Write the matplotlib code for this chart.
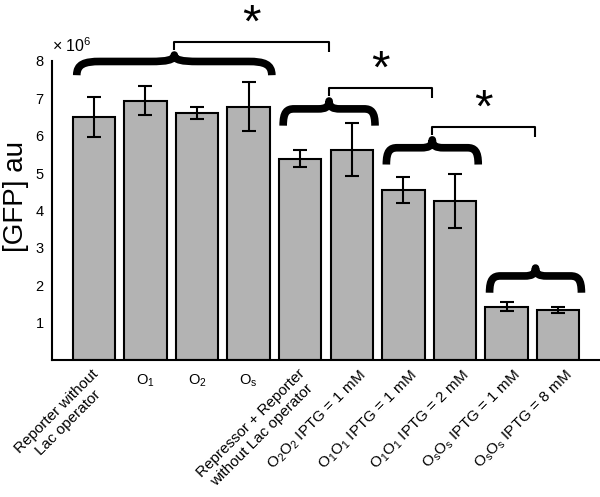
import matplotlib
matplotlib.use("Agg")
import matplotlib.pyplot as plt
from matplotlib.path import Path
from matplotlib.patches import PathPatch
from matplotlib.transforms import ScaledTranslation

plt.rcParams["font.family"] = ["Liberation Sans", "DejaVu Sans"]
plt.rcParams["mathtext.default"] = "regular"

# data (GFP in units of 10^6)
labels = [
    "Reporter without\nLac operator",
    "O$_1$",
    "O$_2$",
    "O$_s$",
    "Repressor + Reporter\nwithout Lac operator",
    "O$_2$O$_2$ IPTG = 1 mM",
    "O$_1$O$_1$ IPTG = 1 mM",
    "O$_1$O$_1$ IPTG = 2 mM",
    "O$_s$O$_s$ IPTG = 1 mM",
    "O$_s$O$_s$ IPTG = 8 mM",
]
gfp = [6.51, 6.94, 6.62, 6.78, 5.39, 5.63, 4.54, 4.25, 1.43, 1.34]
gfp_err = [0.54, 0.38, 0.16, 0.65, 0.22, 0.71, 0.35, 0.72, 0.12, 0.07]

# groups joined by braces, and pairs of groups marked significant
groups = [(0, 3), (4, 5), (6, 7), (8, 9)]
sig_pairs = [(0, 1), (1, 2), (2, 3)]

# annotation layout
brace_base = [7.62, 6.27, 5.23, 1.80]
brace_h = [0.54, 0.66, 0.66, 0.66]

x = list(range(len(gfp)))

fig = plt.figure(figsize=(6, 4.97), dpi=100)
ax = fig.add_axes([52 / 600, 137 / 497, 548 / 600, 299 / 497])

ax.bar(x, gfp, width=0.82, color="#b3b3b3", edgecolor="black", linewidth=1.5,
       yerr=gfp_err, error_kw=dict(ecolor="black", elinewidth=1.5, capsize=5, capthick=1.5))

ax.set_xlim(-0.81, 9.81)
ax.set_ylim(0, 8)
ax.set_yticks(range(1, 9))
ax.tick_params(axis="y", length=0, pad=6, labelsize=10.5)
ax.tick_params(axis="x", length=0, pad=4, labelsize=11)
for s in ["top", "right"]:
    ax.spines[s].set_visible(False)
for s in ["left", "bottom"]:
    ax.spines[s].set_linewidth(1.5)

ax.set_xticks(x)
ax.set_xticklabels(labels)
for i, t in enumerate(ax.get_xticklabels()):
    if i in (1, 2, 3):
        t.set_rotation(0)
        t.set_va("top")
        t.set_fontsize(10.5)
        t.set_transform(t.get_transform() + ScaledTranslation(0, -0.07, fig.dpi_scale_trans))
    else:
        t.set_rotation(45)
        t.set_rotation_mode("anchor")
        t.set_ha("right")
        t.set_va("center")
        t.set_multialignment("center")
        if "\n" in t.get_text():
            off = ScaledTranslation(0.08, -0.12, fig.dpi_scale_trans)
        else:
            off = ScaledTranslation(0.12, -0.08, fig.dpi_scale_trans)
        t.set_transform(t.get_transform() + off)

ax.text(0.0, 1.02, r"$\times$ 10$^6$", transform=ax.transAxes, fontsize=11.5, ha="left", va="bottom")
fig.text(16 / 600, 1 - 197 / 497, "[GFP] au", rotation=90, fontsize=20, ha="center", va="center")


def brace(ax, x0, x1, y, h):
    u = [(0, 0), (0, 0.55), (0.04, 0.68), (0.12, 0.68), (0.38, 0.68),
         (0.46, 0.68), (0.5, 0.75), (0.5, 1.0),
         (0.5, 0.75), (0.54, 0.68), (0.62, 0.68), (0.88, 0.68),
         (0.96, 0.68), (1, 0.55), (1, 0)]
    codes = [Path.MOVETO, Path.CURVE4, Path.CURVE4, Path.CURVE4, Path.LINETO,
             Path.CURVE4, Path.CURVE4, Path.CURVE4,
             Path.CURVE4, Path.CURVE4, Path.CURVE4, Path.LINETO,
             Path.CURVE4, Path.CURVE4, Path.CURVE4]
    verts = [(x0 + a * (x1 - x0), y + b * h) for a, b in u]
    p = PathPatch(Path(verts, codes), fill=False, lw=5.5, edgecolor="black",
                  capstyle="butt", joinstyle="round", clip_on=False)
    ax.add_patch(p)
    return (x0 + x1) / 2, y + h


cusps = []
for (i0, i1), yb, h in zip(groups, brace_base, brace_h):
    cusps.append(brace(ax, i0 - 0.33, i1 + 0.45, yb, h))

for a, b in sig_pairs:
    xa, ya = cusps[a]
    xb, _ = cusps[b]
    yk = ya + 0.35
    ax.plot([xa, xa, xb, xb], [yk - 0.22, yk, yk, yk - 0.27], color="black", lw=1.5,
            clip_on=False, solid_capstyle="butt")
    ax.text((xa + xb) / 2, yk + 0.45, "*", fontsize=34, ha="center", va="center",
            clip_on=False)

fig.savefig("out.png", dpi=100)
